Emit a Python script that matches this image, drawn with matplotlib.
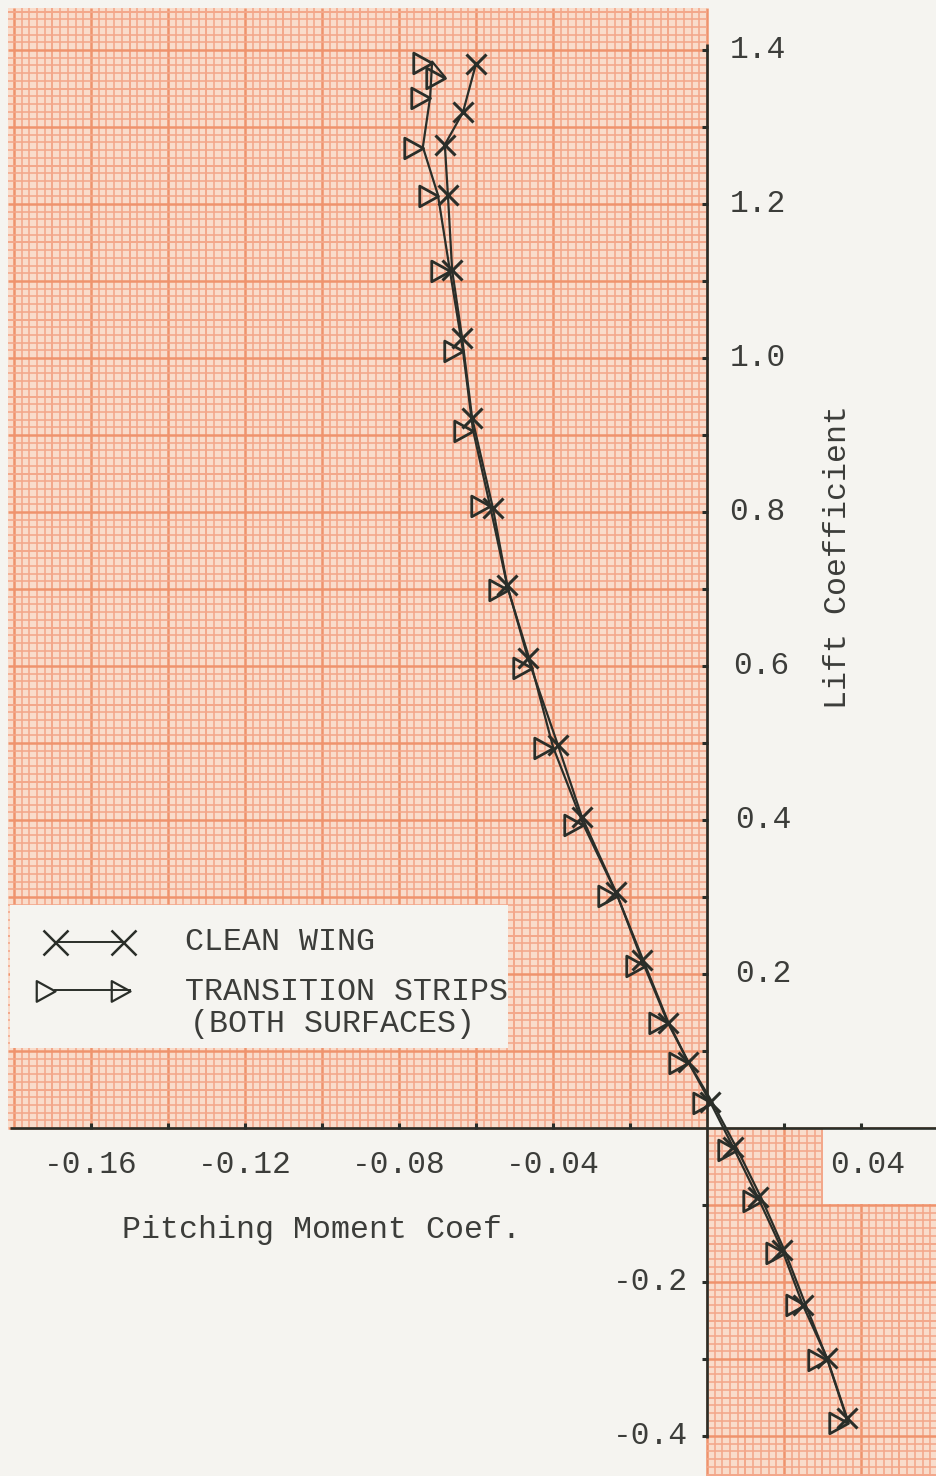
import numpy as np
import matplotlib
matplotlib.use("Agg")
import matplotlib.pyplot as plt
from matplotlib.collections import LineCollection
from matplotlib.patches import Rectangle
from matplotlib.path import Path

# ---------------------------------------------------------------------------
# Pitching moment coefficient vs lift coefficient, two wing configurations
# ---------------------------------------------------------------------------
CLEAN_CM = [0.0364, 0.0312, 0.0249, 0.0195, 0.0132, 0.0068, 0.0008, -0.0049,
            -0.0101, -0.0169, -0.0236, -0.0325, -0.0387, -0.0465, -0.0519,
            -0.0556, -0.0610, -0.0636, -0.0662, -0.0673, -0.0681, -0.0634,
            -0.0600]
CLEAN_CL = [-0.377, -0.299, -0.230, -0.158, -0.090, -0.025, 0.034, 0.086,
            0.136, 0.218, 0.306, 0.404, 0.497, 0.610, 0.705, 0.805, 0.922,
            1.026, 1.114, 1.212, 1.277, 1.319, 1.382]

STRIP_CM = [0.0366, 0.0312, 0.0255, 0.0203, 0.0143, 0.0078, 0.0013, -0.0049,
            -0.0101, -0.0161, -0.0234, -0.0322, -0.0400, -0.0455, -0.0517,
            -0.0564, -0.0608, -0.0634, -0.0668, -0.0699, -0.0738, -0.0719,
            -0.0714, -0.0681]
STRIP_CL = [-0.382, -0.300, -0.228, -0.161, -0.093, -0.027, 0.034, 0.086,
            0.138, 0.212, 0.303, 0.395, 0.495, 0.599, 0.700, 0.809, 0.907,
            1.010, 1.114, 1.212, 1.274, 1.339, 1.385, 1.365]

X_TICKS = [-0.16, -0.12, -0.08, -0.04, 0.04]
X_TICK_LABELS = ["-0.16", "-0.12", "-0.08", "-0.04", "0.04"]
Y_TICKS = [1.4, 1.2, 1.0, 0.8, 0.6, 0.4, 0.2, -0.2, -0.4]
Y_TICK_LABELS = ["1.4", "1.2", "1.0", "0.8", "0.6", "0.4", "0.2", "-0.2", "-0.4"]

LEGEND_LABELS = ["CLEAN WING", "TRANSITION STRIPS", "(BOTH SURFACES)"]

# ---------------------------------------------------------------------------
# styling
# ---------------------------------------------------------------------------
PAGE = "#f5f4f0"
PAPER = "#f9dccb"
MINOR = "#f3a78a"
MAJOR = "#ef936d"
INK = "#2a2e29"
TYPE = "#3c3d3a"
FONT = "Liberation Mono"

XMIN, XMAX = -707 / 3850, 229 / 3850
YMIN, YMAX = -348 / 770, 1128 / 770
DX, DY = 0.002, 0.01     # one small square of the graph paper


def paper(ax, x0, x1, y0, y1):
    """Fill a rectangle with millimetre-style graph paper."""
    ax.add_patch(Rectangle((x0, y0), x1 - x0, y1 - y0, facecolor=PAPER,
                           edgecolor="none", zorder=0))
    for step, vertical in ((DX, True), (DY, False)):
        lo, hi = (x0, x1) if vertical else (y0, y1)
        ks = np.arange(np.ceil(lo / step - 1e-6), np.floor(hi / step + 1e-6) + 1)
        segs, lws, cols = [], [], []
        for k in ks.astype(int):
            v = k * step
            segs.append([(v, y0), (v, y1)] if vertical else [(x0, v), (x1, v)])
            if k % 10 == 0:
                lws.append(1.8); cols.append(MAJOR)
            elif k % 5 == 0:
                lws.append(1.4); cols.append(MINOR)
            else:
                lws.append(1.15); cols.append(MINOR)
        ax.add_collection(LineCollection(segs, linewidths=lws, colors=cols,
                                         zorder=1))


def blank(ax, x0, x1, y0, y1):
    ax.add_patch(Rectangle((x0, y0), x1 - x0, y1 - y0, facecolor=PAGE,
                           edgecolor="none", zorder=2))


fig = plt.figure(figsize=(9.36, 14.76), dpi=100, facecolor=PAGE)
ax = fig.add_axes([0, 0, 1, 1])
ax.set_xlim(XMIN, XMAX)
ax.set_ylim(YMIN, YMAX)
ax.axis("off")

# graph paper: upper-left quadrant and lower-right quadrant
paper(ax, -699 / 3850, 0.0, 0.0, 1120 / 770)
paper(ax, 0.0, XMAX, YMIN, 0.0)
blank(ax, 116 / 3850, XMAX + 0.01, -76 / 770, 0.0)        # under the 0.04 label
blank(ax, -697 / 3850, -199 / 3850, 80 / 770, 223 / 770)  # legend panel

# axes drawn by hand, typewriter style
ax.plot([-697 / 3850, XMAX], [0, 0], color=INK, lw=1.9, zorder=5,
        solid_capstyle="butt")
ax.plot([0, 0], [-0.402, 1.408], color=INK, lw=1.9, zorder=5,
        solid_capstyle="butt")
xt = [v for v in np.arange(-0.16, 0.041, 0.02) if abs(v) > 1e-9]
ax.plot(xt, [0.003] * len(xt), ls="none", marker="|", ms=5, mew=2.2,
        color=INK, zorder=5)
yt = [v for v in np.arange(-0.4, 1.41, 0.1) if abs(v) > 1e-9]
ax.plot([-0.0006] * len(yt), yt, ls="none", marker="_", ms=5, mew=2.2,
        color=INK, zorder=5)

tkw = dict(family=FONT, fontsize=22.5, color=TYPE, zorder=6)
lkw = dict(tkw, fontsize=22.8)
for v, s in zip(X_TICKS, X_TICK_LABELS):
    ax.text(v + (0.0016 if v > 0 else 0), -0.048, s, ha="center",
            va="center", **tkw)
for v, s in zip(Y_TICKS, Y_TICK_LABELS):
    if v > 0:
        nudge = 0.0 if v >= 0.8 else 0.0010 if v >= 0.6 else 0.0016
        ax.text(0.0058 + nudge, v, s, ha="left", va="center", **tkw)
    else:
        ax.text(-0.0049, v, s, ha="right", va="center", **tkw)

ax.text(-585 / 3850, -0.1325, "Pitching Moment Coef.", ha="left",
        va="center", **lkw)
ax.text(0.0340, 0.742, "Lift Coefficient", ha="center", va="center",
        rotation=90, **lkw)

# right-pointing open triangle with its tip on the data point
TRI = Path([(-1.0, 0.5), (-1.0, -0.6), (0.0, -0.05), (-1.0, 0.5)],
           [Path.MOVETO, Path.LINETO, Path.LINETO, Path.CLOSEPOLY])

ax.plot(STRIP_CM, STRIP_CL, color=INK, lw=1.6, marker=TRI, ms=27,
        mfc="none", mec=INK, mew=2.0, zorder=7)
ax.plot(CLEAN_CM, CLEAN_CL, color=INK, lw=1.6, marker="x", ms=15,
        mew=2.2, zorder=8)

# legend, drawn into the blank panel
ax.plot([-652 / 3850, -584 / 3850], [0.241, 0.241], color=INK, lw=1.4,
        marker="x", ms=18, mew=1.8, zorder=7)
ax.plot([-652 / 3850, -577 / 3850], [0.179, 0.179], color=INK, lw=1.4,
        marker=TRI, ms=27, mfc="none", mec=INK, mew=1.6, zorder=7)
ax.text(-522 / 3850, 0.2416, LEGEND_LABELS[0], ha="left", va="center", **lkw)
ax.text(-522 / 3850, 0.1766, LEGEND_LABELS[1], ha="left", va="center", **lkw)
ax.text(-517 / 3850, 0.1350, LEGEND_LABELS[2], ha="left", va="center", **lkw)

fig.savefig("out.png", dpi=100, facecolor=PAGE)
